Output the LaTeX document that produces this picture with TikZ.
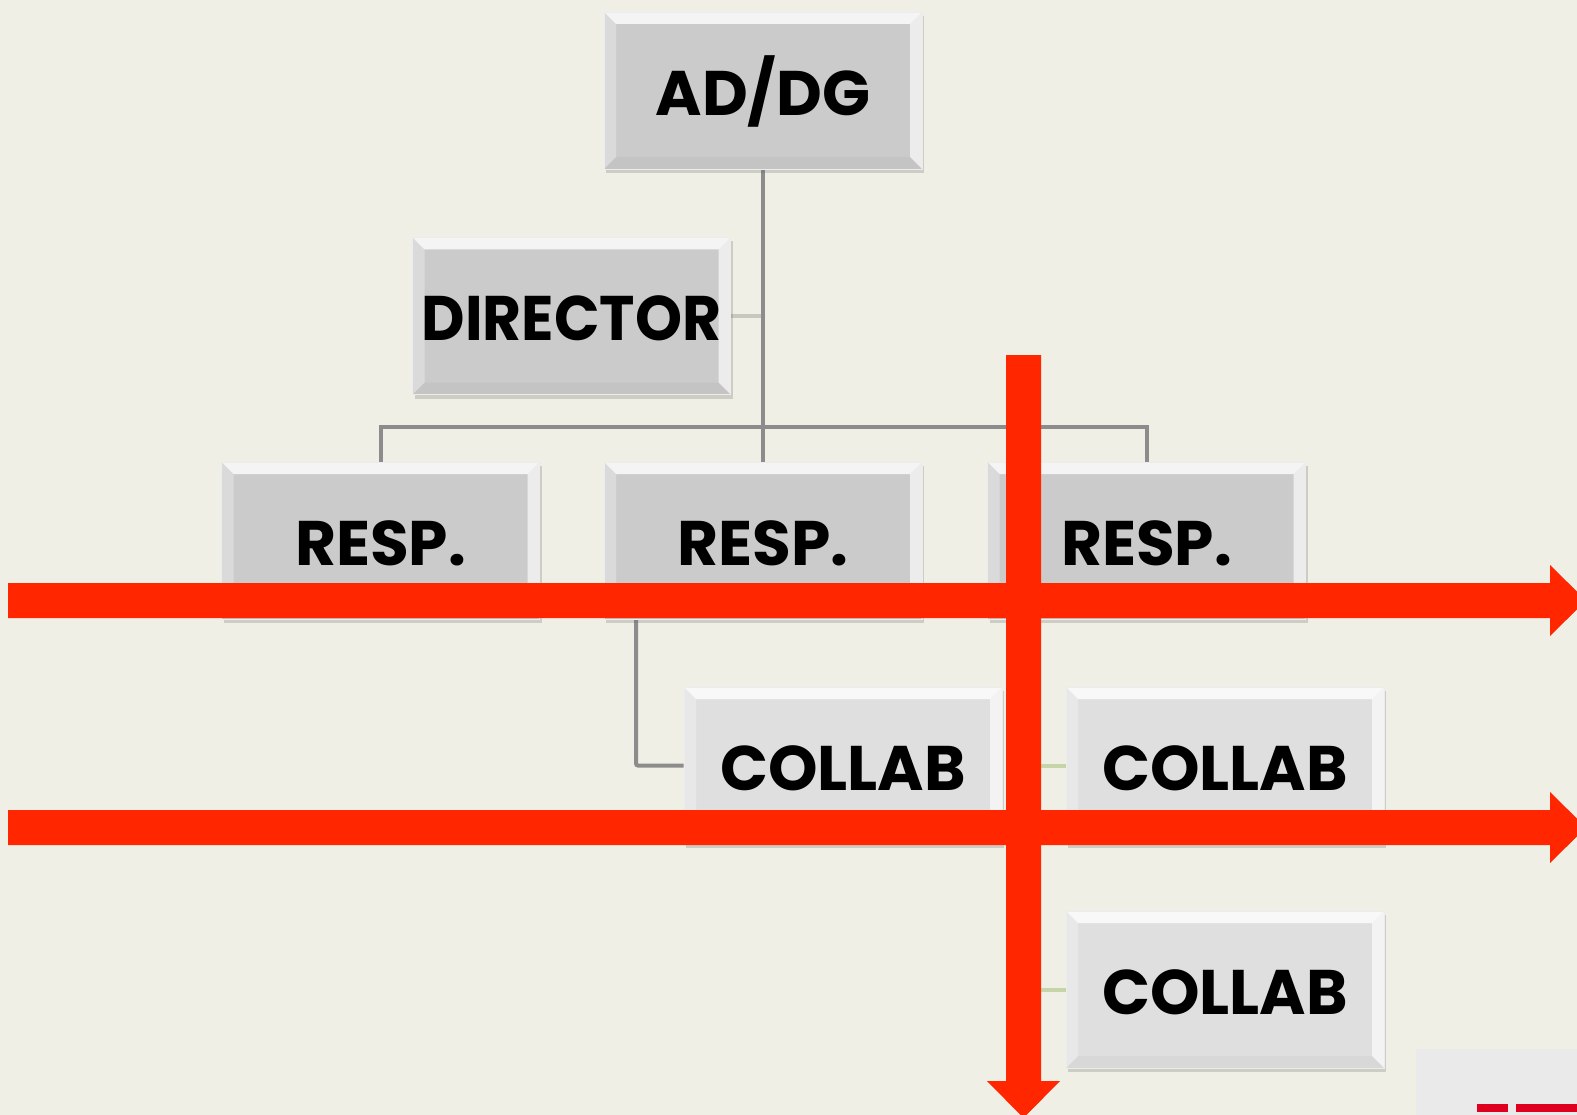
\documentclass[tikz,border=0pt]{standalone}
\usepackage{fontspec}
\setmainfont{Poppins}
\usetikzlibrary{shadows}
\definecolor{bg}{RGB}{240,239,230}
\definecolor{boxgray}{RGB}{203,203,203}
\definecolor{boxlight}{RGB}{223,223,223}
\definecolor{conngray}{RGB}{140,140,140}
\definecolor{connlight}{RGB}{200,200,192}
\definecolor{conngreen}{RGB}{197,213,168}
\definecolor{redarrow}{RGB}{255,38,0}
\definecolor{logobg}{RGB}{234,234,234}
\definecolor{logored}{RGB}{222,0,30}
\pgfdeclarelayer{back}
\pgfdeclarelayer{links}
\pgfdeclarelayer{front}
\pgfsetlayers{back,links,main,front}
\tikzset{
  orgbox/.style={minimum width=318pt, minimum height=157pt, inner sep=0pt,
    text height=50pt, text depth=0pt,
    fill=boxgray, draw=white!85!gray, line width=0.6pt,
    font=\fontsize{63}{70}\selectfont\bfseries,
    drop shadow={shadow xshift=2pt, shadow yshift=-4pt, opacity=0.25, fill=gray!80!black},
    path picture={
      \fill[white, opacity=0.8] (path picture bounding box.north west) -- (path picture bounding box.north east)
        -- ([shift={(-12pt,-12pt)}]path picture bounding box.north east) -- ([shift={(12pt,-12pt)}]path picture bounding box.north west) -- cycle;
      \fill[white, opacity=0.3] (path picture bounding box.north west) -- ([shift={(12pt,-12pt)}]path picture bounding box.north west)
        -- ([shift={(12pt,12pt)}]path picture bounding box.south west) -- (path picture bounding box.south west) -- cycle;
      \fill[white, opacity=0.65] (path picture bounding box.north east) -- ([shift={(-12pt,-12pt)}]path picture bounding box.north east)
        -- ([shift={(-12pt,12pt)}]path picture bounding box.south east) -- (path picture bounding box.south east) -- cycle;
      \fill[black, opacity=0.03] (path picture bounding box.south west) -- ([shift={(12pt,12pt)}]path picture bounding box.south west)
        -- ([shift={(-12pt,12pt)}]path picture bounding box.south east) -- (path picture bounding box.south east) -- cycle;
    }},
  collabbox/.style={orgbox, fill=boxlight},
  conn/.style={draw=conngray, line width=4pt},
  dirconn/.style={draw=connlight, line width=3.5pt},
  greenconn/.style={draw=conngreen, line width=4pt},
  redshape/.style={fill=redarrow, draw=none}
}
\begin{document}
\begin{tikzpicture}[x=1pt, y=-1pt]
\useasboundingbox (0,0) rectangle (1577,1115);
\begin{pgfonlayer}{back}
\fill[bg] (0,0) rectangle (1577,1115);
\end{pgfonlayer}

% nodes
\node[orgbox] (ad) at (763,90.5) {AD/DG};
\node[orgbox] (dir) at (571.5,316) {\scalebox{0.95}[1]{DIRECTOR}};
\node[orgbox] (r1) at (380.5,540.5) {RESP.};
\node[orgbox] (r2) at (763,540.5) {RESP.};
\node[orgbox] (r3) at (1146.5,540.5) {RESP.};
\node[collabbox] (c1) at (843,765.5) {COLLAB};
\node[collabbox] (c2) at (1225,765.5) {COLLAB};
\node[collabbox] (c3) at (1225,989.5) {COLLAB};

\coordinate (busL) at (380.5,427);
\coordinate (busM) at (763,427);
\coordinate (busR) at (1146.5,427);
\coordinate (c1top) at (636,619);
\coordinate (gtop) at (1022,619);

\begin{pgfonlayer}{links}
\draw[dirconn] (dir.east) -- (dir.east -| ad.south);
\draw[conn] (ad.south) -- (busM);
\draw[conn, line cap=rect] (busL) -- (busR);
\draw[conn] (busL) -- (r1.north);
\draw[conn] (busM) -- (r2.north);
\draw[conn] (busR) -- (r3.north);
\draw[conn, rounded corners=2pt] (c1top) |- (c1.west);
\draw[greenconn] (gtop) |- (c2.west);
\draw[greenconn] (gtop) |- (c3.west);
\end{pgfonlayer}

\begin{pgfonlayer}{front}
\clip (0,0) rectangle (1577,1115);
% red arrows
\fill[redshape] (8,583) -- (1550,583) -- (1550,565) -- (1586,600.5) -- (1550,636) -- (1550,618) -- (8,618) -- cycle;
\fill[redshape] (8,810) -- (1550,810) -- (1550,792) -- (1586,827.5) -- (1550,863) -- (1550,845) -- (8,845) -- cycle;
\fill[redshape] (1006,355) -- (1041,355) -- (1041,1081) -- (1060,1081) -- (1023.5,1118) -- (987,1081) -- (1006,1081) -- cycle;
% partial logo bottom right
\fill[logobg] (1416,1049) rectangle (1577,1115);
\fill[logored] (1477,1104) rectangle (1508,1112);
\fill[logored] (1516,1104) rectangle (1577,1112);
\draw[gray, line width=3pt] (1430,1116) arc[start angle=180, end angle=0, radius=15];
\end{pgfonlayer}
\end{tikzpicture}
\end{document}
